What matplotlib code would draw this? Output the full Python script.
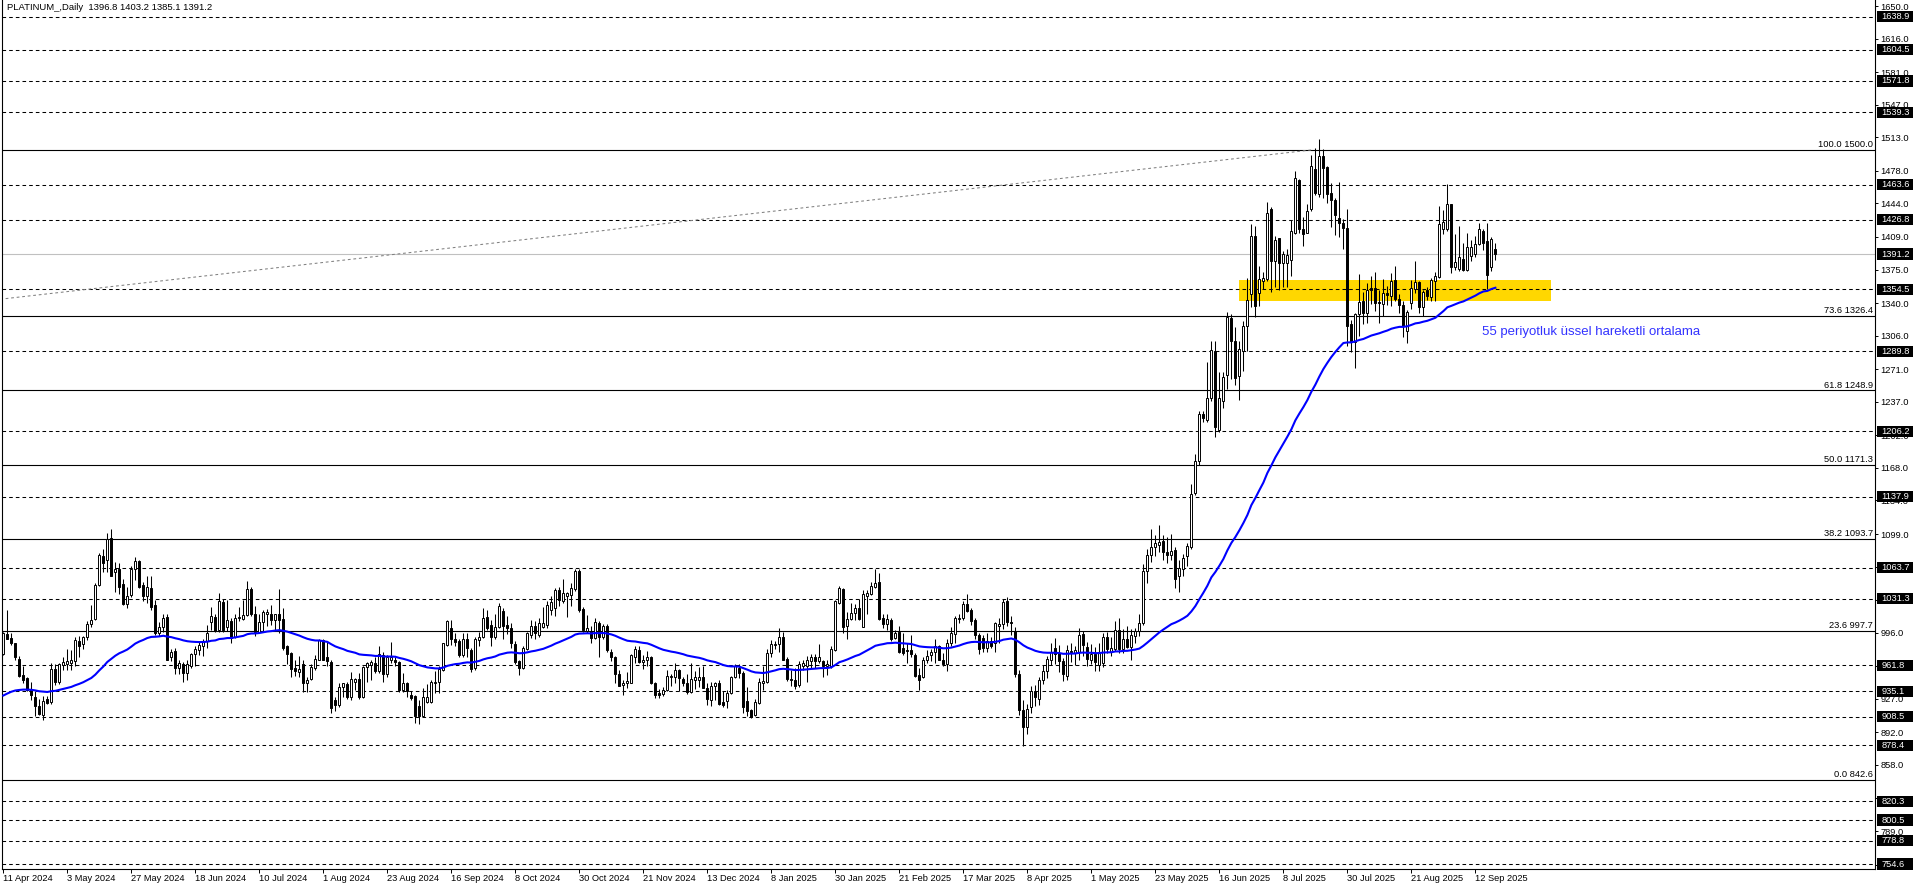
import numpy as np
import pandas as pd
import matplotlib
matplotlib.use("Agg")
import matplotlib.pyplot as plt
from matplotlib.patches import Rectangle

plt.rcParams['font.family'] = ['Liberation Sans', 'DejaVu Sans']
plt.rcParams['lines.scale_dashes'] = False

# ---------------- daily candles, PLATINUM_ (bar index 0 = 11 Apr 2024) ----------------
opens = [
    974, 995, 990, 985, 969, 952, 949, 937, 929, 920,
    910, 927, 924, 958, 945, 962, 963, 964, 966, 987,
    984, 992, 1005, 1010, 1046, 1076, 1072, 1095, 1059, 1063,
    1047, 1026, 1035, 1063, 1071, 1046, 1034, 1043, 1025, 996,
    1002, 1012, 971, 977, 959, 963, 954, 961, 974, 978,
    982, 987, 1007, 1012, 999, 1028, 1002, 1008, 991, 1011,
    1010, 1014, 1042, 1015, 997, 1007, 1016, 1015, 1009, 1015,
    1010, 982, 975, 959, 955, 963, 943, 948, 959, 968,
    988, 971, 965, 926, 921, 939, 942, 929, 945, 948,
    929, 960, 962, 964, 956, 973, 953, 968, 968, 965,
    936, 944, 931, 930, 919, 909, 924, 924, 944, 945,
    957, 983, 1001, 989, 987, 973, 989, 978, 959, 988,
    991, 1012, 1004, 991, 1002,
    1019, 1004, 1001, 984, 966, 959, 979, 994, 1003, 994,
    1002, 1004, 1020, 1022, 1041, 1029, 1034, 1035, 1042, 1060,
    1021, 998, 998, 990, 1006, 992, 1003, 976, 971, 953,
    941, 943, 944, 971, 978, 965, 968, 971, 944, 933,
    932, 936, 950, 950, 957, 948, 944, 934, 947, 947,
    950, 938, 926, 940, 943, 924, 925, 933, 950, 959,
    954, 925, 915, 910, 923, 944, 945, 975, 983, 984,
    992, 969, 948, 947, 941, 961, 961, 966, 971, 966,
    966, 961, 961, 978, 1027, 1042, 1003, 1010, 1017, 1022,
    1002, 1034, 1036, 1044, 1049, 1011, 1005, 1009, 990, 997,
    980, 978, 978, 973, 952, 950, 968, 973, 976, 982,
    967, 963, 985, 995, 1010, 1011, 1026, 1020, 1009, 994,
    990, 980, 987, 985, 1003,
    1005, 1029, 1007, 998, 953, 915, 898, 918, 935, 927,
    947, 956, 968, 980, 975, 966, 951, 977, 975, 976,
    995, 981, 968, 974, 962, 964, 992, 976, 979, 999,
    979, 989, 981, 993, 998, 1006, 1060, 1077, 1085, 1088,
    1092, 1080, 1077, 1082, 1055, 1063, 1076, 1085, 1142, 1175,
    1224, 1218, 1241, 1290, 1208, 1238, 1265, 1324, 1300, 1264,
    1290, 1316,
    1349, 1410, 1351, 1363, 1365, 1438, 1384, 1408, 1382, 1382,
    1385, 1413, 1468, 1417, 1413, 1438, 1480, 1454, 1493, 1482,
    1455, 1448, 1429, 1424, 1418, 1318, 1299, 1329, 1342, 1330,
    1356, 1356, 1341, 1339, 1351, 1347, 1364, 1344, 1338, 1311,
    1340, 1355, 1362, 1336, 1354, 1346, 1363, 1367, 1417, 1417,
    1443, 1378, 1376, 1386, 1375, 1389, 1391, 1402, 1415, 1405,
    1378, 1396.8,
]
highs = [
    997, 1020, 996, 985, 972, 961, 950, 945, 935, 927,
    930, 930, 964, 963, 964, 971, 979, 978, 992, 993,
    993, 1008, 1025, 1048, 1079, 1083, 1100, 1104, 1070, 1069,
    1052, 1044, 1066, 1075, 1072, 1049, 1055, 1055, 1030, 1007,
    1016, 1016, 979, 980, 968, 965, 967, 975, 982, 987,
    989, 1004, 1023, 1015, 1037, 1031, 1030, 1011, 1016, 1023,
    1030, 1050, 1044, 1024, 1015, 1020, 1021, 1025, 1016, 1042,
    1022, 983, 976, 967, 972, 968, 950, 963, 973, 989,
    989, 987, 967, 929, 944, 944, 945, 955, 949, 954,
    961, 965, 967, 971, 982, 976, 973, 986, 971, 966,
    954, 945, 935, 931, 926, 938, 942, 947, 956, 961,
    985, 1009, 1009, 996, 989, 996, 996, 980, 991, 997,
    1022, 1020, 1009, 1015, 1027,
    1022, 1013, 1006, 987, 968, 982, 997, 1009, 1008, 1011,
    1023, 1029, 1034, 1043, 1044, 1052, 1039, 1048, 1063, 1063,
    1023, 1014, 1003, 1011, 1008, 1005, 1005, 979, 972, 957,
    947, 955, 974, 982, 982, 973, 977, 972, 945, 937,
    939, 957, 953, 964, 958, 950, 953, 964, 956, 960,
    961, 943, 945, 945, 947, 935, 936, 951, 963, 963,
    956, 939, 916, 927, 949, 961, 979, 988, 987, 1001,
    997, 971, 957, 959, 966, 968, 972, 974, 974, 984,
    968, 968, 982, 1030, 1045, 1043, 1018, 1027, 1026, 1031,
    1041, 1041, 1049, 1063, 1058, 1015, 1015, 1011, 999, 1003,
    996, 985, 994, 975, 959, 971, 978, 979, 989, 983,
    975, 989, 1002, 1013, 1016, 1029, 1036, 1022, 1011, 996,
    994, 996, 992, 1007, 1011,
    1031, 1033, 1013, 1002, 957, 926, 922, 940, 941, 950,
    962, 972, 985, 990, 983, 970, 983, 985, 982, 1001,
    998, 986, 984, 981, 985, 996, 997, 992, 1008, 1011,
    1000, 1003, 1000, 1001, 1016, 1068, 1083, 1104, 1098, 1108,
    1098, 1096, 1099, 1085, 1072, 1078, 1090, 1151, 1182, 1227,
    1227, 1279, 1300, 1300, 1268, 1268, 1331, 1329, 1315, 1300,
    1321, 1366,
    1423, 1420, 1379, 1372, 1446, 1440, 1410, 1408, 1394, 1396,
    1427, 1478, 1469, 1430, 1443, 1495, 1502, 1511, 1501, 1483,
    1465, 1450, 1466, 1428, 1438, 1322, 1330, 1370, 1352, 1361,
    1368, 1372, 1354, 1365, 1358, 1371, 1379, 1349, 1342, 1333,
    1364, 1384, 1363, 1354, 1357, 1366, 1372, 1441, 1437, 1464,
    1443, 1412, 1420, 1403, 1413, 1406, 1410, 1424, 1417, 1424,
    1409, 1403.2,
]
lows = [
    973, 989, 983, 968, 950, 943, 935, 926, 909, 910,
    905, 922, 922, 941, 942, 957, 957, 957, 961, 971,
    979, 988, 1002, 1009, 1045, 1059, 1059, 1055, 1038, 1036,
    1025, 1022, 1033, 1051, 1043, 1029, 1027, 1020, 994, 993,
    997, 967, 966, 953, 953, 945, 947, 959, 961, 973,
    972, 980, 999, 997, 997, 997, 998, 985, 990, 1008,
    1009, 1013, 1013, 993, 996, 997, 1003, 1004, 999, 996,
    978, 963, 950, 951, 950, 934, 934, 947, 957, 967,
    967, 961, 912, 914, 918, 929, 927, 926, 936, 927,
    928, 945, 947, 954, 954, 945, 950, 964, 961, 934,
    934, 929, 926, 902, 901, 908, 923, 923, 933, 933,
    956, 982, 983, 982, 971, 971, 971, 955, 957, 982,
    990, 999, 982, 989, 1001,
    989, 995, 980, 963, 952, 958, 978, 990, 989, 992,
    1001, 1001, 1014, 1013, 1024, 1027, 1012, 1024, 1040, 1018,
    997, 996, 985, 989, 971, 989, 976, 966, 944, 940,
    931, 938, 943, 964, 964, 958, 961, 942, 928, 928,
    930, 935, 940, 944, 935, 940, 932, 933, 937, 939,
    938, 921, 920, 926, 921, 918, 917, 932, 949, 949,
    912, 909, 907, 909, 922, 936, 944, 971, 979, 976,
    968, 946, 940, 937, 939, 957, 945, 959, 959, 964,
    950, 952, 959, 977, 1026, 996, 989, 1009, 1009, 1009,
    1002, 1016, 1035, 1043, 1009, 1001, 999, 987, 989, 975,
    973, 964, 971, 950, 936, 949, 964, 966, 964, 967,
    961, 956, 982, 985, 1006, 1009, 1018, 1004, 989, 974,
    976, 976, 980, 976, 985,
    1000, 1003, 994, 950, 910, 878, 890, 912, 920, 921,
    942, 949, 962, 963, 955, 946, 947, 965, 962, 968,
    972, 961, 963, 956, 956, 960, 975, 972, 977, 975,
    975, 980, 968, 985, 993, 1004, 1048, 1070, 1076, 1080,
    1072, 1069, 1072, 1043, 1038, 1055, 1066, 1083, 1140, 1171,
    1216, 1216, 1238, 1200, 1205, 1230, 1250, 1261, 1254, 1239,
    1269, 1290,
    1336, 1325, 1337, 1355, 1363, 1352, 1357, 1354, 1357, 1357,
    1368, 1412, 1413, 1400, 1413, 1436, 1453, 1451, 1450, 1444,
    1419, 1411, 1409, 1396, 1295, 1289, 1272, 1306, 1318, 1319,
    1339, 1332, 1319, 1327, 1338, 1337, 1342, 1330, 1305, 1298,
    1334, 1350, 1330, 1327, 1343, 1342, 1342, 1366, 1412, 1415,
    1371, 1375, 1373, 1374, 1373, 1384, 1388, 1401, 1395, 1355,
    1374, 1385.1,
]
closes = [
    996, 989, 985, 971, 951, 947, 936, 931, 919, 911,
    925, 923, 958, 945, 963, 965, 966, 968, 988, 982,
    991, 1005, 1009, 1046, 1077, 1069, 1094, 1055, 1062, 1044,
    1026, 1034, 1063, 1071, 1044, 1034, 1044, 1023, 996, 1002,
    1011, 968, 976, 959, 964, 954, 963, 974, 979, 983,
    987, 996, 1013, 998, 1029, 999, 1009, 990, 1011, 1012,
    1014, 1042, 1015, 997, 1007, 1018, 1018, 1009, 1015, 1009,
    980, 974, 958, 956, 958, 943, 947, 960, 969, 988,
    968, 966, 917, 921, 939, 943, 929, 948, 948, 929,
    960, 964, 965, 956, 974, 953, 971, 971, 965, 936,
    944, 935, 928, 909, 909, 929, 929, 945, 945, 958,
    985, 1008, 989, 986, 973, 989, 980, 958, 989, 991,
    1011, 1001, 991, 1002, 1024,
    1003, 1001, 985, 965, 959, 980, 996, 1003, 996, 1006,
    1006, 1025, 1028, 1041, 1030, 1037, 1037, 1043, 1060, 1020,
    999, 1001, 990, 1007, 991, 1003, 978, 971, 953, 940,
    943, 946, 973, 979, 965, 968, 971, 943, 931, 931,
    936, 951, 951, 957, 949, 944, 934, 948, 950, 950,
    938, 927, 940, 943, 922, 921, 933, 950, 961, 954,
    918, 914, 908, 924, 945, 946, 975, 984, 984, 992,
    968, 948, 947, 940, 963, 964, 967, 971, 966, 971,
    961, 963, 979, 1029, 1043, 1002, 1010, 1017, 1022, 1010,
    1036, 1037, 1045, 1048, 1010, 1005, 1010, 989, 996, 976,
    975, 977, 974, 951, 947, 968, 972, 976, 982, 968,
    963, 985, 996, 1011, 1011, 1026, 1019, 1008, 994, 979,
    980, 987, 982, 1006, 1005,
    1028, 1007, 1006, 953, 915, 898, 916, 935, 929, 947,
    956, 969, 976, 974, 966, 953, 978, 976, 978, 994,
    983, 969, 974, 965, 976, 991, 979, 980, 999, 979,
    989, 981, 994, 998, 1006, 1060, 1077, 1085, 1090, 1091,
    1080, 1077, 1081, 1052, 1064, 1074, 1086, 1141, 1175, 1224,
    1220, 1241, 1291, 1211, 1241, 1263, 1325, 1300, 1262, 1292,
    1316, 1343,
    1410, 1337, 1365, 1366, 1434, 1384, 1406, 1382, 1391, 1390,
    1415, 1471, 1417, 1412, 1436, 1483, 1455, 1493, 1481, 1454,
    1448, 1432, 1424, 1418, 1316, 1300, 1329, 1341, 1330, 1354,
    1354, 1340, 1340, 1351, 1348, 1363, 1344, 1338, 1316, 1331,
    1356, 1362, 1336, 1352, 1347, 1364, 1368, 1423, 1425, 1443,
    1378, 1383, 1388, 1375, 1399, 1399, 1402, 1417, 1403, 1369,
    1407, 1391.2,
]

ema_period = 55
ema_seed = 928          # EMA value just before the first visible bar

date_labels = ['11 Apr 2024', '3 May 2024', '27 May 2024', '18 Jun 2024', '10 Jul 2024',
               '1 Aug 2024', '23 Aug 2024', '16 Sep 2024', '8 Oct 2024', '30 Oct 2024',
               '21 Nov 2024', '13 Dec 2024', '8 Jan 2025', '30 Jan 2025', '21 Feb 2025',
               '17 Mar 2025', '8 Apr 2025', '1 May 2025', '23 May 2025', '16 Jun 2025',
               '8 Jul 2025', '30 Jul 2025', '21 Aug 2025', '12 Sep 2025']
date_step = 16

price_ticks = [1650.0, 1616.0, 1581.0, 1547.0, 1513.0, 1478.0, 1444.0, 1409.0, 1375.0,
               1340.0, 1306.0, 1271.0, 1237.0, 1202.0, 1168.0, 1134.0, 1099.0, 1065.0,
               1030.0, 996.0, 961.0, 927.0, 892.0, 858.0, 823.0, 789.0, 754.0]

dashed_levels = [1638.9, 1604.5, 1571.8, 1539.3, 1463.6, 1426.8, 1354.5, 1289.8, 1206.2,
                 1137.9, 1063.7, 1031.3, 961.8, 935.1, 908.5, 878.4, 820.3, 800.5,
                 778.8, 754.6]
last_price = 1391.2

fib_pct = ['100.0', '73.6', '61.8', '50.0', '38.2', '23.6', '0.0']
fib_levels = [1500.0, 1326.4, 1248.9, 1171.3, 1093.7, 997.7, 842.6]

trend_x = [-0.8, 327.4]
trend_y = [1344.0, 1500.0]

zone_x = [308.9, 386.9]
zone_y = [1342.0, 1364.5]

title = 'PLATINUM_,Daily  1396.8 1403.2 1385.1 1391.2'
ema_note = '55 periyotluk üssel hareketli ortalama'

# ---------------- figure ----------------
W, H = 1916, 888
fig = plt.figure(figsize=(W / 100, H / 100), dpi=100)
ax = fig.add_axes([2 / W, 19 / H, 1873 / W, 869 / H])
ax.set_xlim(-0.325, 467.9)
ax.set_ylim(749.4, 1656.3)

o = np.array(opens, dtype=float)
h = np.array(highs, dtype=float)
l = np.array(lows, dtype=float)
c = np.array(closes, dtype=float)
x = np.arange(len(c))

# background zone
ax.add_patch(Rectangle((zone_x[0], zone_y[0]), zone_x[1] - zone_x[0], zone_y[1] - zone_y[0],
                       facecolor='#FFD700', edgecolor='none', zorder=0.5))

# horizontal levels
for lv in dashed_levels:
    ax.axhline(lv, color='black', lw=0.75, ls=(0, (2.6, 2.2)), zorder=1)
ax.axhline(last_price, color='#C0C0C0', lw=0.8, zorder=1)
for pct, lv in zip(fib_pct, fib_levels):
    ax.axhline(lv, color='black', lw=0.8, zorder=1)
    ax.text(1 - 2 / 1873, lv + 0.8, f'{pct} {lv:.1f}', transform=ax.get_yaxis_transform(),
            ha='right', va='bottom', fontsize=6.7, zorder=4)

ax.plot(trend_x, trend_y, color='#808080', lw=0.75, ls=(0, (2, 2)), zorder=1.2)

# candles
up = c >= o
ax.vlines(x, l, h, color='black', lw=0.75, zorder=2)
ax.bar(x, np.abs(c - o), bottom=np.minimum(o, c), width=0.55,
       color=np.where(up, 'white', 'black'), edgecolor='black', lw=0.7, zorder=2.2)

# 55 EMA
ema = pd.Series([ema_seed] + closes, dtype=float).ewm(span=ema_period, adjust=False).mean().values[1:]
ax.plot(x, ema, color='#0000FF', lw=1.5, zorder=3)
ax.text(369.7, 1310, ema_note, color='#3333FF', fontsize=9.5, va='center', ha='left', zorder=4)

# title
ax.text(5 / 1873, 1 - 8 / 869, title, transform=ax.transAxes, fontsize=6.8, va='center', ha='left')

# axes styling
for s in ['left', 'right', 'bottom']:
    ax.spines[s].set_linewidth(0.8)
    ax.spines[s].set_color('black')
ax.spines['top'].set_visible(False)

ax.yaxis.tick_right()
ax.set_yticks(price_ticks)
ax.set_yticklabels([f'{t:.1f}' for t in price_ticks])
ax.tick_params(axis='y', length=2.2, width=0.7, pad=1.8, labelsize=6.7)

ax.set_xticks(np.arange(len(date_labels)) * date_step)
ax.set_xticklabels(date_labels, ha='left')
ax.tick_params(axis='x', length=2.9, width=0.7, pad=0.8, labelsize=6.7)

# boxed price labels on the right scale
ytr = ax.get_yaxis_transform()
for lv in dashed_levels + [last_price]:
    ax.add_patch(Rectangle((1.0011, lv - 5.8), 0.0192, 11.6, transform=ytr, facecolor='black',
                           edgecolor='none', clip_on=False, zorder=5))
    ax.text(1.0035, lv, f'{lv:.1f}', transform=ytr, color='white', fontsize=6.7,
            va='center', ha='left', clip_on=False, zorder=6)

fig.savefig('out.png', dpi=100)
